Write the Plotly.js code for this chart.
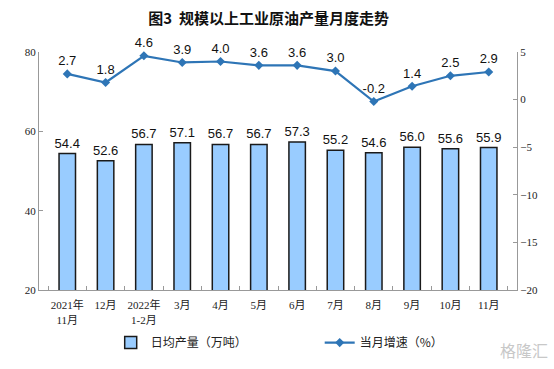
<!DOCTYPE html>
<html>
<head>
<meta charset="utf-8">
<script src="https://cdn.plot.ly/plotly-3.0.1.min.js"></script>
<style>html,body{margin:0;padding:0;background:#fff;}#chart{width:554px;height:369px;}</style>
</head>
<body>
<div id="chart"></div>
<script>
const categories = ['2021年<br>11月','12月','2022年<br>1-2月','3月','4月','5月','6月','7月','8月','9月','10月','11月'];
const dailyOutput = [54.4,52.6,56.7,57.1,56.7,56.7,57.3,55.2,54.6,56.0,55.6,55.9];
const monthlyGrowth = [2.7,1.8,4.6,3.9,4.0,3.6,3.6,3.0,-0.2,1.4,2.5,2.9];
const barName = '日均产量（万吨）';
const lineName = '当月增速（%）';

const cjk = '"Noto Sans CJK SC", sans-serif';
const serif = '"Liberation Serif", "Noto Sans CJK SC", serif';

const data = [
  {
    type: 'bar', x: categories, y: dailyOutput, name: barName,
    marker: {color: '#99ccff', line: {color: '#1a1a1a', width: 1.5}},
    width: 0.43,
    text: dailyOutput.map(v => v.toFixed(1)), textposition: 'outside',
    textfont: {family: 'Liberation Sans, Arial', size: 13, color: '#111'},
    constraintext: 'none',
    cliponaxis: false, hoverinfo: 'none'
  },
  {
    type: 'scatter', mode: 'lines+markers+text', x: categories, y: monthlyGrowth, name: lineName,
    yaxis: 'y2',
    line: {color: '#2e75b6', width: 2.2},
    marker: {symbol: 'diamond', size: 7, color: '#2e75b6'},
    text: monthlyGrowth.map(v => v.toFixed(1)), textposition: 'top center',
    textfont: {family: 'Liberation Sans, Arial', size: 13, color: '#111'},
    cliponaxis: false, hoverinfo: 'none'
  }
];

const layout = {
  width: 554, height: 369,
  margin: {l: 39, r: 37, t: 52, b: 75},
  paper_bgcolor: '#fff', plot_bgcolor: '#fff',
  showlegend: true,
  title: {text: '图3  规模以上工业原油产量月度走势', font: {family: cjk, size: 15, color: '#111', weight: 'bold'}, x: 0.485, xanchor: 'center', y: 0.948, yanchor: 'middle'},
  xaxis: {
    type: 'category', showline: true, linecolor: '#999', linewidth: 1,
    ticks: 'inside', ticklen: 4, tickcolor: '#999', tickson: 'boundaries', tickangle: 0,
    ticklabelstandoff: 5,
    tickfont: {family: serif, size: 11, color: '#222'}, showgrid: false, zeroline: false
  },
  yaxis: {
    range: [20, 80], dtick: 20, showline: true, linecolor: '#999', linewidth: 1,
    ticks: 'inside', ticklen: 4, tickcolor: '#999', showgrid: false, zeroline: false,
    tickfont: {family: serif, size: 11, color: '#222'}
  },
  yaxis2: {
    range: [-20, 5], dtick: 5, overlaying: 'y', side: 'right', showline: true, linecolor: '#999', linewidth: 1,
    ticks: 'inside', ticklen: 4, tickcolor: '#999', showgrid: false, zeroline: false,
    tickfont: {family: serif, size: 11, color: '#222'}
  },
  legend: {
    orientation: 'h', x: 0.15, xanchor: 'left', y: -0.16, yanchor: 'top',
    font: {family: cjk, size: 12, color: '#222'}, itemwidth: 30, tracegroupgap: 0,
    entrywidth: 164
  },
  annotations: [
    {text: '格隆汇', xref: 'paper', yref: 'paper', x: 1.07, y: -0.25, xanchor: 'right', yanchor: 'middle', showarrow: false,
     font: {family: cjk, size: 16, color: '#c8c8c8'}}
  ]
};

Plotly.newPlot('chart', data, layout, {displayModeBar: false, staticPlot: true});
</script>
</body>
</html>
